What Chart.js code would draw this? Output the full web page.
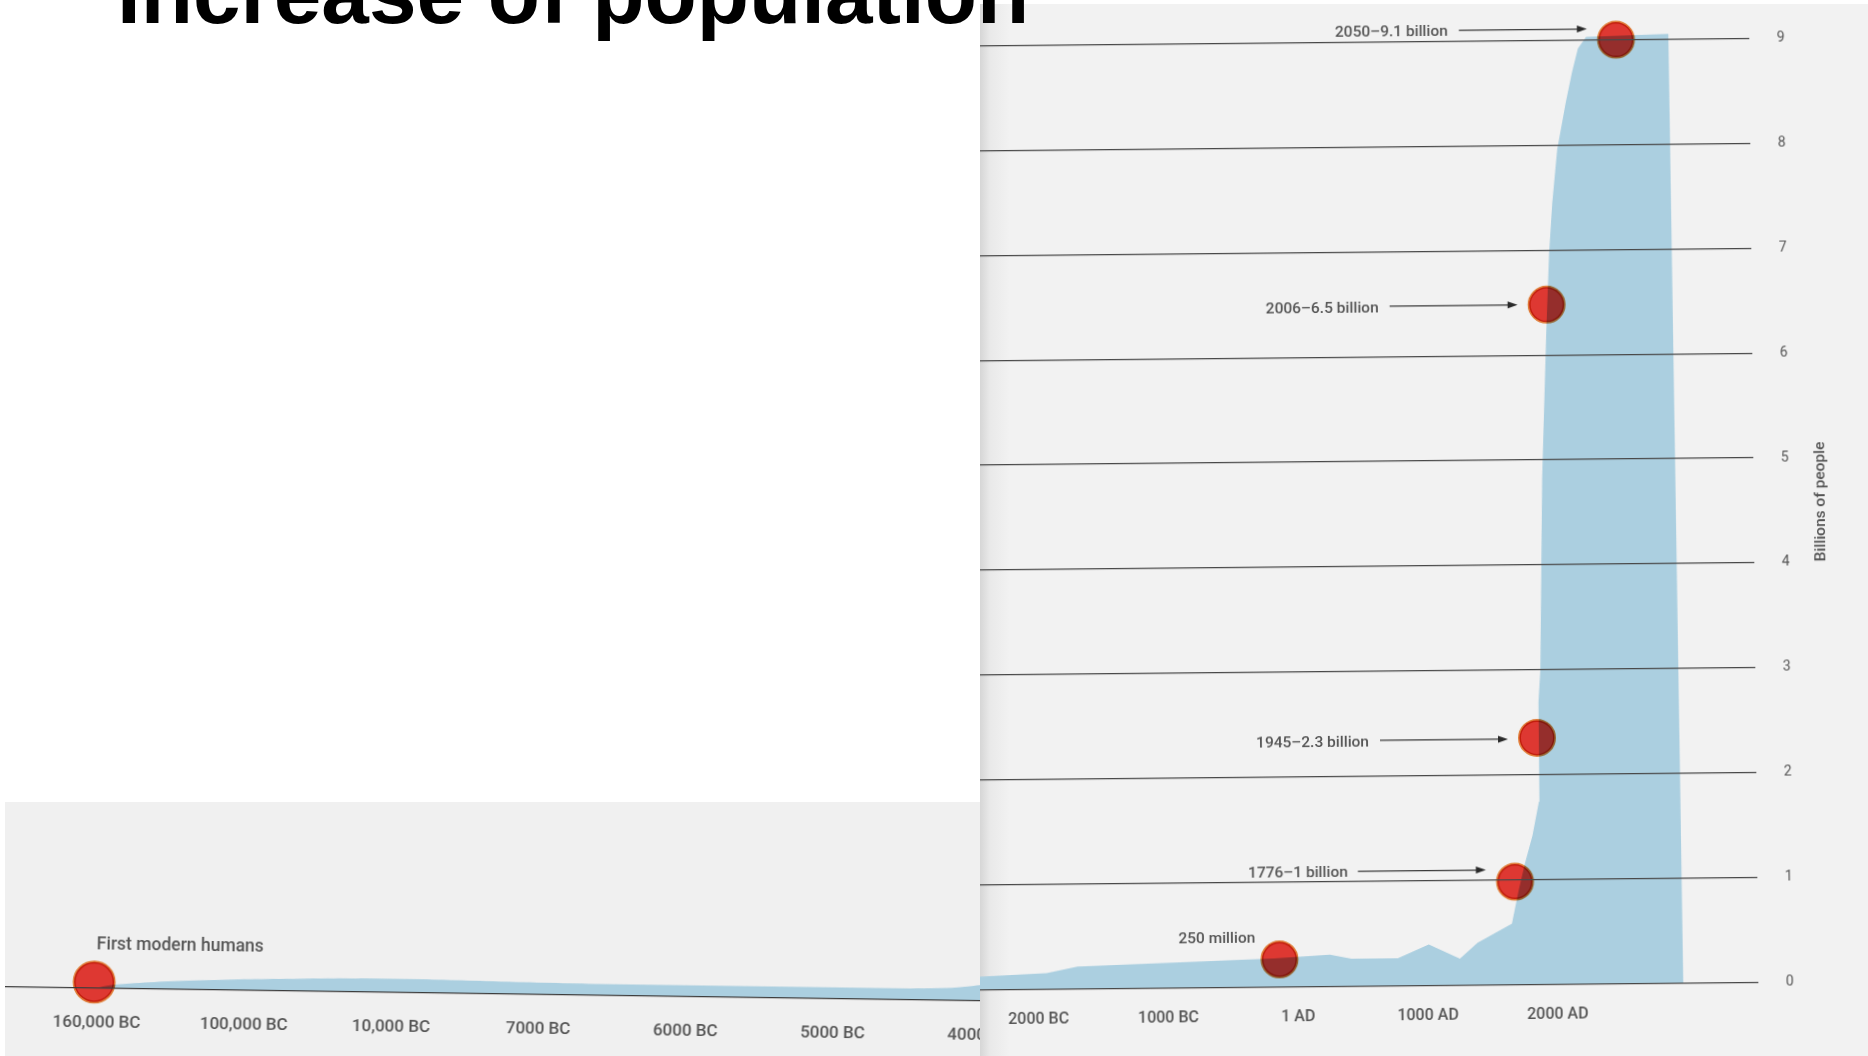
<!DOCTYPE html>
<html>
<head>
<meta charset="utf-8">
<title>Increase of population</title>
<script src="https://cdn.jsdelivr.net/npm/chart.js@4.4.1/dist/chart.umd.min.js"></script>
<style>
  html, body { margin: 0; padding: 0; background: #fff; }
  body { width: 1868px; height: 1056px; position: relative; overflow: hidden; }
  .title {
    position: absolute; left: 117px; top: -49px; margin: 0; z-index: 5;
    font: bold 85.5px/85.5px 'Liberation Sans', Arial, sans-serif; color: #000; white-space: nowrap;
  }
  .panel { position: absolute; overflow: hidden; }
  #leftPanel { left: 5px; top: 802px; width: 975px; height: 254px; background: #f0f0f0; }
  #rightPanel {
    left: 980px; top: 4px; width: 888px; height: 1052px;
    background: linear-gradient(to right, #d6d6d6 0px, #e9e9e9 10px, #f2f2f2 30px);
  }
  .wrap { position: absolute; top: 0; }
  #leftWrap { left: -12px; width: 1039px; height: 254px; transform-origin: 499.5px 192px; transform: rotate(0.82deg); }
  #rightWrap { left: -12px; width: 900px; height: 1052px; transform-origin: 456px 526px; transform: rotate(-0.55deg); }
</style>
</head>
<body>
<div class="title">Increase of population</div>
<div class="panel" id="leftPanel"><div class="wrap" id="leftWrap"><canvas id="leftChart"></canvas></div></div>
<div class="panel" id="rightPanel"><div class="wrap" id="rightWrap"><canvas id="rightChart"></canvas></div></div>
<script>
// early history strip (positions on the drawn, non-linear axis: one unit per label)
const leftTickLabels = ['160,000 BC', '100,000 BC', '10,000 BC', '7000 BC', '6000 BC', '5000 BC', '4000 BC']
const leftAreaX = [-0.02, 0.14, 0.7, 1.38, 2.06, 2.74, 3.5, 4.42, 5.2, 5.77, 6.05]
const leftAreaY = [0, 0.04, 0.09, 0.12, 0.13, 0.12, 0.11, 0.11, 0.11, 0.12, 0.16]
const leftMarkerX = [-0.02]
const leftMarkerY = [0.06]
const leftNotes = ['First modern humans']

// main chart (x = position on the drawn time axis, y = billions of people)
const rightTickYears = [-2000, -1000, 0, 1000, 2000]
const rightTickLabels = ['2000 BC', '1000 BC', '1 AD', '1000 AD', '2000 AD']
const yTicks = [0, 1, 2, 3, 4, 5, 6, 7, 8, 9]
const areaX = [-2508, -1935, -1697, -183, 249, 414, 772, 1011, 1250, 1387, 1653, 1708, 1759, 1818, 1870, 1874, 1891, 1919, 1961, 1989, 2017, 2059, 2129, 2180, 2226, 2290, 2924, 2969]
const areaY = [0.12, 0.15, 0.21, 0.27, 0.3, 0.26, 0.26, 0.39, 0.25, 0.4, 0.58, 0.9, 1.16, 1.42, 1.74, 2.69, 3.0, 4.83, 6.21, 6.97, 7.45, 7.96, 8.41, 8.7, 8.92, 9.03, 9.05, 0]
const markerX = [2520, 1966, 1860, 1680, -140]
const markerY = [9.0, 6.48, 2.35, 0.98, 0.26]
const markerNotes = ['2050–9.1 billion', '2006–6.5 billion', '1945–2.3 billion', '1776–1 billion', '250 million']

const AREA_COLOR = '#abcfe0'
const TEXT_COLOR = '#555'
const FONT = 'Roboto, "Liberation Sans", sans-serif'

const toPoints = (xs, ys) => xs.map((x, i) => ({ x, y: ys[i] }))

// keep the plot area exactly where the axes are placed
const noXPadding = s => { s.paddingLeft = 0; s.paddingRight = 0 }
const noYPadding = s => { s.paddingTop = 0; s.paddingBottom = 0 }

// dots are printed over the area, darker where they overlap it
const multiplyPlugin = {
  id: 'multiply',
  beforeDatasetDraw(chart, args) {
    if (args.index === 1) {
      chart.ctx.save()
      chart.ctx.globalCompositeOperation = 'multiply'
    }
  },
  afterDatasetDraw(chart, args) {
    if (args.index === 1) chart.ctx.restore()
  }
}

const notesPlugin = {
  id: 'notes',
  afterDraw(chart, args, opts) {
    const ctx = chart.ctx
    const meta = chart.getDatasetMeta(1)
    ctx.save()
    ctx.font = opts.font
    ctx.fillStyle = TEXT_COLOR
    ctx.textBaseline = 'middle'
    opts.notes.forEach((text, i) => {
      const p = meta.data[i]
      const l = opts.layout[i]
      ctx.textAlign = l.align || 'right'
      ctx.fillText(text, p.x + l.dx, p.y + l.dy)
      if (l.arrow) {
        const y = p.y + l.dy - 2
        const x0 = p.x - 157
        const x1 = p.x - 29
        ctx.strokeStyle = '#3a3a3a'
        ctx.lineWidth = 1.2
        ctx.beginPath()
        ctx.moveTo(x0, y)
        ctx.lineTo(x1 - 8, y)
        ctx.stroke()
        ctx.fillStyle = '#2a2a2a'
        ctx.beginPath()
        ctx.moveTo(x1, y)
        ctx.lineTo(x1 - 10, y - 3.5)
        ctx.lineTo(x1 - 10, y + 3.5)
        ctx.closePath()
        ctx.fill()
        ctx.fillStyle = TEXT_COLOR
      }
    })
    if (opts.axisTitle) {
      const a = chart.chartArea
      ctx.translate(a.right + 68, (a.top + a.bottom) / 2 + 5)
      ctx.rotate(-Math.PI / 2)
      ctx.textAlign = 'center'
      ctx.font = '500 15.5px ' + FONT
      ctx.fillText(opts.axisTitle, 0, 0)
    }
    ctx.restore()
  }
}

new Chart(document.getElementById('leftChart'), {
  type: 'line',
  data: {
    datasets: [
      {
        data: toPoints(leftAreaX, leftAreaY),
        backgroundColor: AREA_COLOR,
        fill: 'origin',
        borderWidth: 0,
        pointRadius: 0,
        tension: 0.4,
        order: 2
      },
      {
        type: 'scatter',
        data: toPoints(leftMarkerX, leftMarkerY),
        backgroundColor: 'rgb(222, 56, 50)',
        borderColor: 'rgb(224, 128, 60)',
        borderWidth: 3,
        pointRadius: 20,
        clip: false,
        order: 1
      }
    ]
  },
  options: {
    responsive: true,
    maintainAspectRatio: false,
    animation: false,
    layout: { padding: 0, autoPadding: false },
    scales: {
      x: {
        type: 'linear',
        min: -0.7065,
        max: 6.352,
        afterBuildTicks: s => { s.ticks = leftTickLabels.map((_, i) => ({ value: i })) },
        afterFit: s => { s.height = 62; noXPadding(s) },
        grid: { display: false },
        border: { display: true, color: '#3c3c3c', width: 1.3, z: 1 },
        ticks: {
          autoSkip: false,
          maxRotation: 0,
          padding: 17,
          color: TEXT_COLOR,
          font: { family: FONT, size: 17, weight: '500' },
          callback: (v, i) => leftTickLabels[i]
        }
      },
      y: { display: false, min: 0, max: 1.831 }
    },
    plugins: {
      legend: { display: false },
      tooltip: { enabled: false },
      notes: {
        notes: leftNotes,
        font: '500 17.5px ' + FONT,
        layout: [{ dx: 2, dy: -37, align: 'left', arrow: false }]
      }
    }
  },
  plugins: [multiplyPlugin, notesPlugin]
})

new Chart(document.getElementById('rightChart'), {
  type: 'line',
  data: {
    datasets: [
      {
        data: toPoints(areaX, areaY),
        backgroundColor: AREA_COLOR,
        fill: 'origin',
        borderWidth: 0,
        pointRadius: 0,
        tension: 0,
        order: 2
      },
      {
        type: 'scatter',
        data: toPoints(markerX, markerY),
        backgroundColor: 'rgb(222, 56, 50)',
        borderColor: 'rgb(224, 128, 60)',
        borderWidth: 3,
        pointRadius: 17.5,
        clip: false,
        order: 1
      }
    ]
  },
  options: {
    responsive: true,
    maintainAspectRatio: false,
    animation: false,
    layout: { padding: { top: 11.4, left: 0, right: 0, bottom: 0 }, autoPadding: false },
    scales: {
      x: {
        type: 'linear',
        min: -2508,
        max: 3544,
        afterBuildTicks: s => { s.ticks = rightTickYears.map(v => ({ value: v })) },
        afterFit: s => { s.height = 70.7; noXPadding(s) },
        grid: { display: false },
        border: { display: false },
        ticks: {
          autoSkip: false,
          maxRotation: 0,
          padding: 13,
          color: TEXT_COLOR,
          font: { family: FONT, size: 16, weight: '500' },
          callback: (v, i) => rightTickLabels[i]
        }
      },
      y: {
        position: 'right',
        min: 0,
        max: 9.25,
        afterBuildTicks: s => { s.ticks = yTicks.map(v => ({ value: v })) },
        afterFit: s => { s.width = 114.4; noYPadding(s) },
        grid: { color: '#484848', lineWidth: 1.3, drawTicks: false, z: 1 },
        border: { display: false },
        ticks: {
          padding: 28,
          color: TEXT_COLOR,
          font: { family: FONT, size: 14 }
        }
      }
    },
    plugins: {
      legend: { display: false },
      tooltip: { enabled: false },
      notes: {
        notes: markerNotes,
        font: '500 15.5px ' + FONT,
        axisTitle: 'Billions of people',
        layout: [
          { dx: -168, dy: -9, arrow: true },
          { dx: -168, dy: 2, arrow: true },
          { dx: -168, dy: 3, arrow: true },
          { dx: -167, dy: -10, arrow: true },
          { dx: -24, dy: -21, arrow: false }
        ]
      }
    }
  },
  plugins: [multiplyPlugin, notesPlugin]
})
</script>
</body>
</html>
